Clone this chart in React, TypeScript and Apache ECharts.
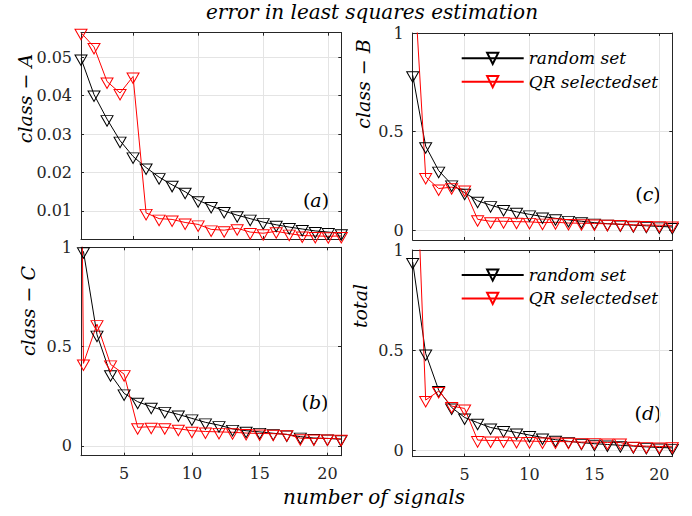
import React, { useEffect, useRef } from "react";
import * as echarts from "echarts";

// ---------------- data ----------------
const signals = [1, 2, 3, 4, 5, 6, 7, 8, 9, 10, 11, 12, 13, 14, 15, 16, 17, 18, 19, 20, 21];

const classARandom = [0.0497, 0.0403, 0.0339, 0.0283, 0.0242, 0.0213, 0.0188, 0.0168, 0.015, 0.0128, 0.0113, 0.01, 0.0089, 0.008, 0.0071, 0.0064, 0.0058, 0.0053, 0.0048, 0.0045, 0.0042];
const classAQR = [0.0564, 0.0527, 0.0437, 0.0407, 0.045, 0.0095, 0.008, 0.0078, 0.007, 0.0065, 0.0052, 0.005, 0.0055, 0.0045, 0.0042, 0.0047, 0.0041, 0.0036, 0.0035, 0.0034, 0.0035];

const classBRandom = [0.786, 0.426, 0.302, 0.232, 0.19, 0.149, 0.127, 0.107, 0.093, 0.08, 0.069, 0.06, 0.052, 0.045, 0.038, 0.033, 0.029, 0.025, 0.022, 0.019, 0.016];
const classBQR = [1.4, 0.27, 0.211, 0.218, 0.206, 0.055, 0.045, 0.045, 0.043, 0.042, 0.038, 0.04, 0.036, 0.035, 0.034, 0.032, 0.031, 0.027, 0.026, 0.025, 0.024];

const classCRandom = [null, 0.98, 0.56, 0.36, 0.264, 0.222, 0.197, 0.176, 0.158, 0.138, 0.118, 0.104, 0.085, 0.076, 0.07, 0.063, 0.057, 0.046, 0.039, 0.037, 0.033];
const classCQR = [8.0, 0.415, 0.613, 0.41, 0.361, 0.093, 0.096, 0.093, 0.086, 0.076, 0.072, 0.07, 0.068, 0.064, 0.062, 0.061, 0.058, 0.038, 0.037, 0.037, 0.035];

const totalRandom = [0.94, 0.483, 0.3, 0.213, 0.163, 0.137, 0.113, 0.1, 0.088, 0.075, 0.063, 0.052, 0.044, 0.037, 0.032, 0.028, 0.024, 0.02, 0.016, 0.013, 0.011];
const totalQR = [1.95, 0.25, 0.295, 0.22, 0.208, 0.05, 0.048, 0.048, 0.046, 0.045, 0.043, 0.043, 0.042, 0.04, 0.04, 0.038, 0.038, 0.022, 0.02, 0.018, 0.019];

const seriesNames = ["random set", "QR selectedset"];
const panelLabels = ["class − A", "class − C", "class − B", "total"];
const panelTags = ["a", "b", "c", "d"];
const titleText = "error in least squares estimation";
const xLabelText = "number of signals";

// ---------------- style ----------------
const FONT = '"DejaVu Serif", serif';
const AXIS = "#262626";
const GRIDC = "#e4e4e4";
const BLACK = "#000000";
const RED = "#ff0000";
const TRI = "path://M0,0L20,0L10,17Z";

const panels = [
  { grid: { left: 81, top: 32.7, width: 260.3, height: 206.3 }, x: [1, 21], y: [0.0027, 0.0564], step: 0.01, maxLabel: false, xLabels: false, random: classARandom, qr: classAQR, name: [25, 98.5], tag: [316, 200] },
  { grid: { left: 81, top: 247.3, width: 260, height: 208.4 }, x: [1.82, 21], y: [-0.05, 1], step: 0.5, maxLabel: true, xLabels: true, random: classCRandom, qr: classCQR, name: [28, 311], tag: [315, 402] },
  { grid: { left: 412.7, top: 33, width: 259.6, height: 207 }, x: [1, 21], y: [-0.05, 1], step: 0.5, maxLabel: true, xLabels: false, random: classBRandom, qr: classBQR, name: [363, 84], tag: [648, 194] },
  { grid: { left: 412.7, top: 250, width: 259.6, height: 206.7 }, x: [1, 21], y: [-0.033, 1], step: 0.5, maxLabel: true, xLabels: true, random: totalRandom, qr: totalQR, name: [360, 306], tag: [648, 413] },
];

function buildOption() {
  const grid: any[] = [];
  const xAxis: any[] = [];
  const yAxis: any[] = [];
  const series: any[] = [];
  const graphic: any[] = [];
  const lineStyle = { color: AXIS, width: 1 };
  const tick = { show: true, inside: true, length: 3, lineStyle };

  panels.forEach((p, i) => {
    grid.push({ ...p.grid, containLabel: false });
    xAxis.push({
      type: "value", gridIndex: i, position: "bottom", min: p.x[0], max: p.x[1],
      minInterval: 5, maxInterval: 5,
      axisLine: { show: true, onZero: false, lineStyle },
      axisTick: tick,
      axisLabel: { show: p.xLabels, showMinLabel: false, showMaxLabel: false, margin: 10, color: AXIS, fontFamily: FONT, fontSize: 16 },
      splitLine: { show: true, lineStyle: { color: GRIDC, width: 1 } },
    });
    xAxis.push({
      type: "value", gridIndex: i, position: "top", min: p.x[0], max: p.x[1],
      minInterval: 5, maxInterval: 5,
      axisLine: { show: true, onZero: false, lineStyle },
      axisTick: tick, axisLabel: { show: false }, splitLine: { show: false },
    });
    yAxis.push({
      type: "value", gridIndex: i, position: "left", min: p.y[0], max: p.y[1],
      minInterval: p.step, maxInterval: p.step,
      axisLine: { show: true, onZero: false, lineStyle },
      axisTick: tick,
      axisLabel: { show: true, showMinLabel: false, showMaxLabel: p.maxLabel, margin: 9, color: AXIS, fontFamily: FONT, fontSize: 16 },
      splitLine: { show: true, lineStyle: { color: GRIDC, width: 1 } },
    });
    yAxis.push({
      type: "value", gridIndex: i, position: "right", min: p.y[0], max: p.y[1],
      minInterval: p.step, maxInterval: p.step,
      axisLine: { show: true, onZero: false, lineStyle },
      axisTick: tick, axisLabel: { show: false }, splitLine: { show: false },
    });

    const mk = (name: string, vals: (number | null)[], color: string) => ({
      type: "line", name, xAxisIndex: i * 2, yAxisIndex: i * 2,
      data: signals.map((x, k) => [x, vals[k]]),
      symbol: TRI, symbolSize: [12, 10.5], symbolOffset: [0, 1.75], showAllSymbol: true,
      lineStyle: { color, width: 1 },
      itemStyle: { color: "rgba(255,255,255,0)", borderColor: color, borderWidth: 1 },
      emphasis: { disabled: true }, silent: true, clip: true,
    });
    series.push(mk(seriesNames[0], p.random, BLACK));
    series.push(mk(seriesNames[1], p.qr, RED));

    graphic.push({
      type: "text", x: p.name[0], y: p.name[1], rotation: Math.PI / 2,
      style: { text: panelLabels[i], font: `italic 19px ${FONT}`, fill: BLACK, align: "center", verticalAlign: "middle" },
    });
    graphic.push({
      type: "text", x: p.tag[0], y: p.tag[1],
      style: {
        text: `{p|(}{i|${panelTags[i]}}{p|)}`, align: "center", verticalAlign: "middle",
        rich: { p: { font: `19px ${FONT}`, fill: BLACK }, i: { font: `italic 19px ${FONT}`, fill: BLACK } },
      },
    });
  });

  graphic.push({
    type: "text", x: 372, y: 12,
    style: { text: titleText, font: `italic 20px ${FONT}`, fill: BLACK, align: "center", verticalAlign: "middle" },
  });
  graphic.push({
    type: "text", x: 374, y: 497,
    style: { text: xLabelText, font: `italic 20px ${FONT}`, fill: BLACK, align: "center", verticalAlign: "middle" },
  });

  const legendBase = {
    data: seriesNames, orient: "vertical", left: 460.7, itemWidth: 62, itemHeight: 14, itemGap: 5.4, padding: 0,
    selectedMode: false,
    textStyle: { fontFamily: FONT, fontStyle: "italic", fontSize: 17, color: BLACK, lineHeight: 18 },
  };

  return {
    animation: false,
    backgroundColor: "#ffffff",
    grid, xAxis, yAxis, series, graphic,
    legend: [{ ...legendBase, top: 49.3 }, { ...legendBase, top: 266 }],
  };
}

export default function App() {
  const ref = useRef<HTMLDivElement>(null);
  useEffect(() => {
    const chart = echarts.init(ref.current!, undefined, { renderer: "svg" });
    chart.setOption(buildOption() as any);
    return () => chart.dispose();
  }, []);
  return (
    <div
      ref={ref}
      style={{ position: "fixed", left: 0, top: 0, width: 692, height: 516, background: "#fff" }}
    />
  );
}
